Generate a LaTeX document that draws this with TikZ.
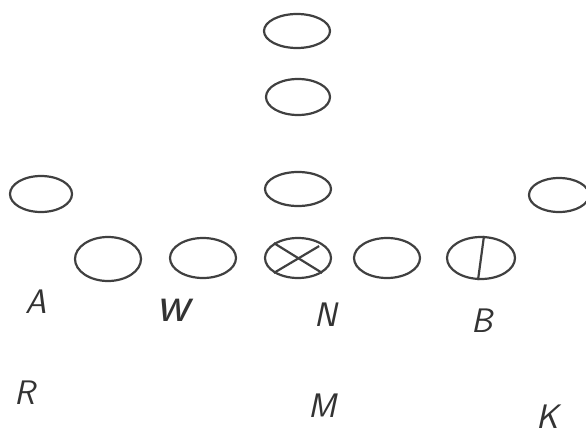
\documentclass[tikz,border=0pt]{standalone}
\usetikzlibrary{shapes.geometric}
\begin{document}
\begin{tikzpicture}[x=1pt,y=-1pt,
  pl/.style={draw=black!75, line width=2.2pt, ellipse, inner sep=0pt, minimum width=66pt, minimum height=40pt},
  mark line/.style={draw=black!75, line width=2.2pt},
  lbl/.style={text=black!80, font=\fontsize{34}{34}\selectfont\sffamily\itshape, inner sep=0pt}]
\useasboundingbox (0,0) rectangle (586,436);
\clip (0,0) rectangle (586,436);
\node[pl, minimum height=34pt] (t1) at (297,31) {};
\node[pl, minimum width=64pt, minimum height=36pt] (t2) at (298,97) {};
\node[pl, minimum height=34pt] (c) at (298,189) {};
\node[pl, minimum width=62pt, minimum height=36pt] (le) at (41,194) {};
\node[pl, minimum width=60pt, minimum height=34pt] (re) at (559,195) {};
\node[pl, minimum height=44pt] (r1) at (108,259) {};
\node[pl] (r2) at (203,258) {};
\node[pl] (r3) at (298,258) {};
\node[pl] (r4) at (387,258) {};
\node[pl, minimum width=68pt, minimum height=42pt] (r5) at (481,258) {};
\draw[mark line] (r3.north west) -- (r3.south east);
\draw[mark line] ([shift={(-3,3)}]r3.north east) -- (r3.south west);
\draw[mark line] ([xshift=3pt]r5.north) -- ([xshift=-3pt]r5.south);
\node[lbl] (A) at (36,302) {A};
\node[lbl, font=\fontsize{52}{52}\selectfont\sffamily\itshape] (W) at (173,310) {w};
\node[lbl] (N) at (326,315) {N};
\node[lbl] (B) at (482,321) {B};
\node[lbl] (R) at (25,393) {R};
\node[lbl] (M) at (322,406) {M};
\node[lbl] (K) at (548,417) {K};
\end{tikzpicture}
\end{document}
